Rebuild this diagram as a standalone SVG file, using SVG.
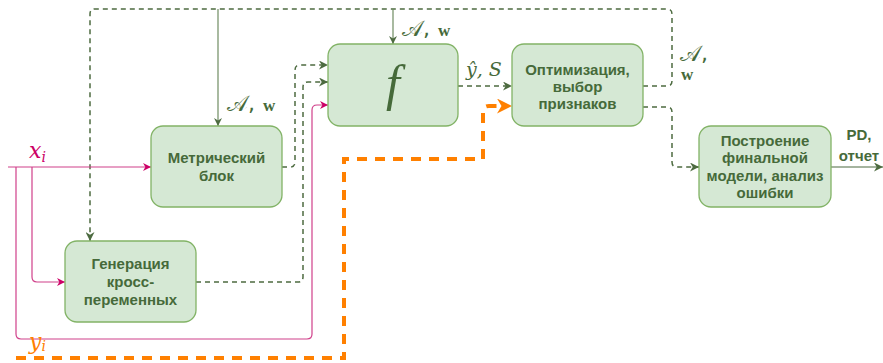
<svg xmlns="http://www.w3.org/2000/svg" width="883" height="363" viewBox="0 0 883 363">
<style>
.node rect{fill:#d5e8d4;stroke:#82b366;stroke-width:1.3}
.nt{font-family:"Liberation Sans",Arial,sans-serif;font-weight:bold;font-size:15px;fill:#466a3a;text-anchor:middle}
.dg{fill:none;stroke:#4d6b40;stroke-width:1.5;stroke-dasharray:5 4}
.sg{fill:none;stroke:#6f8c62;stroke-width:1.2}
.pk{fill:none;stroke:#d0408a;stroke-width:1.2}
.or{fill:none;stroke:#ff8000;stroke-width:4;stroke-dasharray:10 8}
.m{font-family:"DejaVu Serif","Liberation Serif",serif;font-style:italic;font-size:19px;fill:#466a3a}
.ca{font-family:"DejaVu Sans","DejaVu Serif",serif;font-size:22px;fill:#466a3a}
.mb{font-family:"Liberation Serif",serif;font-weight:bold;font-size:17px;fill:#466a3a}
</style>
<defs>
<marker id="ag" viewBox="0 0 10 10" refX="10" refY="5" markerWidth="10" markerHeight="9" markerUnits="userSpaceOnUse" orient="auto"><path d="M0,0 L10,5 L0,10 L3,5 z" fill="#4d6b40"/></marker>
<marker id="as" viewBox="0 0 10 10" refX="10" refY="5" markerWidth="9" markerHeight="8" markerUnits="userSpaceOnUse" orient="auto"><path d="M0,0 L10,5 L0,10 L3,5 z" fill="#4d6b40"/></marker>
<marker id="ap" viewBox="0 0 10 10" refX="10" refY="5" markerWidth="9" markerHeight="8" markerUnits="userSpaceOnUse" orient="auto"><path d="M0,0 L10,5 L0,10 L3,5 z" fill="#cc0066"/></marker>
<marker id="ao" viewBox="0 0 10 10" refX="10" refY="5" markerWidth="15" markerHeight="15" markerUnits="userSpaceOnUse" orient="auto"><path d="M0,0 L10,5 L0,10 L3,5 z" fill="#ff8000"/></marker>
</defs>
<g id="connectors">
<path class="dg" d="M643,86 H667 Q672,86 672,81 V14 Q672,9 667,9 H95 Q90,9 90,14 V241" marker-end="url(#ag)"/>
<path class="sg" d="M218,9 V126" marker-end="url(#as)"/>
<path class="sg" d="M393,9 V44" marker-end="url(#as)"/>
<path class="dg" d="M282,167 H290 Q295,167 295,162 V70 Q295,65 300,65 H328" marker-end="url(#ag)"/>
<path class="dg" d="M196,282 H298 Q303,282 303,277 V87 Q303,82 308,82 H328" marker-end="url(#ag)"/>
<path class="dg" d="M458,86 H512" marker-end="url(#ag)"/>
<path class="dg" d="M643,107 H667 Q672,107 672,112 V162 Q672,167 677,167 H699" marker-end="url(#ag)"/>
<path class="sg" style="stroke:#4d6b40" d="M831,167 H883" marker-end="url(#ag)"/>
<path class="pk" d="M8,167 H151" marker-end="url(#ap)"/>
<path class="pk" d="M32,167 V277 Q32,282 37,282 H65" marker-end="url(#ap)"/>
<path class="pk" d="M16,167 V334 Q16,339 21,339 H307 Q312,339 312,334 V110 Q312,105 317,105 H328" marker-end="url(#ap)"/>
<path class="or" d="M16,358 H344 V159 H483 V112 Q483,106 489,106 H500"/>
<path d="M498,106 H512" stroke="none" fill="none" marker-end="url(#ao)"/>
<text class="ca" x="227" y="111">𝒜,</text><text class="mb" x="263" y="111">w</text>
<text class="ca" x="402" y="36">𝒜,</text><text class="mb" x="438" y="36">w</text>
<text class="ca" x="680" y="61">𝒜,</text>
<text class="mb" x="681" y="80">w</text>
<text class="m" x="466" y="76">ŷ, S</text>
<text class="m" style="fill:#cc0066;font-size:22px" x="29" y="158">x<tspan font-size="14" dy="4">i</tspan></text>
<text class="m" style="fill:#ff8000;font-size:22px" x="29" y="349">y<tspan font-size="14" dy="2">i</tspan></text>
<text class="nt" x="859" y="140">PD,</text>
<text class="nt" x="859" y="161">отчет</text>
</g>
<g id="metric" class="node"><rect x="151" y="126" width="131" height="81" rx="12"/><text class="nt" x="216.5" y="163">Метрический</text><text class="nt" x="216.5" y="181">блок</text></g>
<g id="generation" class="node"><rect x="65" y="241" width="131" height="81" rx="12"/><text class="nt" x="130.5" y="269">Генерация</text><text class="nt" x="130.5" y="287">кросс-</text><text class="nt" x="130.5" y="305">переменных</text></g>
<g id="f" class="node"><rect x="328" y="44" width="130" height="82" rx="12"/><text x="393" y="100" text-anchor="middle" style="font-family:'Liberation Serif',serif;font-style:italic;font-size:50px;fill:#466a3a">f</text></g>
<g id="optimization" class="node"><rect x="512" y="44" width="131" height="82" rx="12"/><text class="nt" x="577.5" y="75">Оптимизация,</text><text class="nt" x="577.5" y="92">выбор</text><text class="nt" x="577.5" y="109">признаков</text></g>
<g id="final" class="node"><rect x="699" y="126" width="132" height="81" rx="12"/><text class="nt" x="765" y="146">Построение</text><text class="nt" x="765" y="163">финальной</text><text class="nt" x="765" y="181">модели, анализ</text><text class="nt" x="765" y="198">ошибки</text></g>
</svg>
